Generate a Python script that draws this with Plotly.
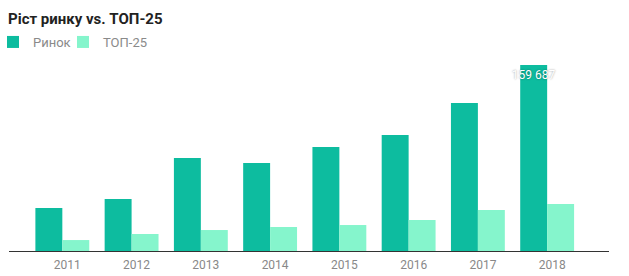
import plotly.graph_objects as go

years = ["2011", "2012", "2013", "2014", "2015", "2016", "2017", "2018"]
market = [36900, 44600, 79800, 75500, 89300, 99600, 127100, 159687]
top25 = [9400, 14600, 18000, 20600, 22300, 26600, 35200, 40300]
market_labels = ["", "", "", "", "", "", "", "159 687"]

C_MARKET = "#0dbc9f"
C_TOP = "#85f5cc"

fig = go.Figure()
fig.add_trace(go.Bar(
    x=years, y=market, name="Ринок", marker=dict(color=C_MARKET, line=dict(width=0)),
    text=market_labels, textposition="inside", insidetextanchor="end",
    constraintext="none", textangle=0, cliponaxis=False,
    textfont=dict(color="white", size=12, family="Roboto", shadow="0px 0px 2px rgba(0,0,0,0.45)"),
    hoverinfo="skip", legend="legend",
))
fig.add_trace(go.Bar(
    x=years, y=top25, name="ТОП-25", marker=dict(color=C_TOP, line=dict(width=0)),
    hoverinfo="skip", legend="legend2",
))

legend_common = dict(orientation="h", yanchor="middle", xanchor="left",
                     xref="paper", yref="container", y=1 - 42/276,
                     font=dict(size=13, color="#8a8a8a"), itemclick=False, itemwidth=30,
                     bgcolor="rgba(0,0,0,0)")

fig.update_layout(
    width=629, height=276,
    margin=dict(l=9, r=20, t=41, b=25, autoexpand=False),
    paper_bgcolor="white", plot_bgcolor="white",
    barmode="group", bargap=0.222, bargroupgap=0,
    font=dict(family="Roboto", color="#888888"),
    title=dict(text="<b>Ріст ринку vs. ТОП-25</b>", x=8/629, xanchor="left", xref="container",
               y=1 - 19/276, yanchor="middle", yref="container",
               font=dict(family="Roboto", size=15, color="#222222")),
    showlegend=True,
    legend=dict(x=-16/600, **legend_common),
    legend2=dict(x=54/600, **legend_common),
    xaxis=dict(type="category", range=[-0.77, 7.893], showgrid=False, zeroline=False,
               showline=True, linecolor="#333333", linewidth=1, ticks="",
               tickfont=dict(size=12, color="#888888"), ticklabelshift=5,
               ticklabelstandoff=3, fixedrange=True, automargin=False),
    yaxis=dict(range=[0, 180293], visible=False, showgrid=False, zeroline=False, fixedrange=True),
)

fig.write_html("out.html", config={"displayModeBar": False})
